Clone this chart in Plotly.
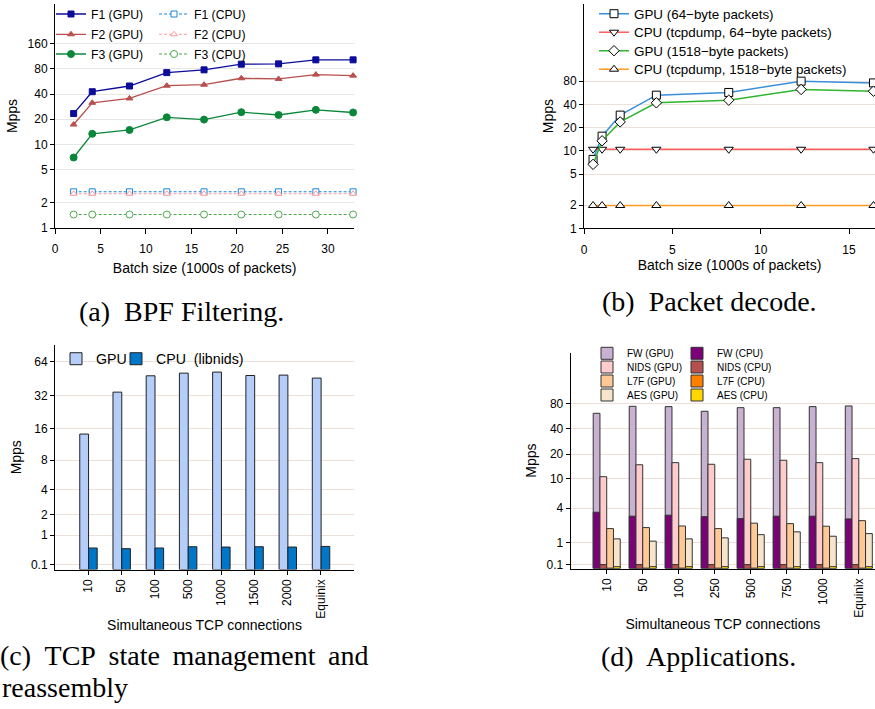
import numpy as np
import plotly.graph_objects as go

# ---------------- data ----------------
# (a) BPF filtering
batch_a = [2.048, 4.096, 8.192, 12.288, 16.384, 20.48, 24.576, 28.672, 32.768]
f1_gpu = [23.4, 42.7, 50.0, 72.3, 78.0, 91.2, 92.0, 102.8, 102.8]
f2_gpu = [17.3, 31.5, 35.5, 50.4, 51.8, 61.9, 60.7, 68.4, 66.5]
f3_gpu = [6.97, 13.4, 14.9, 21.1, 19.8, 24.3, 22.5, 25.9, 24.1]
f1_cpu = [2.71, 2.71, 2.71, 2.71, 2.71, 2.71, 2.71, 2.71, 2.71]
f2_cpu = [2.57, 2.57, 2.57, 2.57, 2.57, 2.57, 2.57, 2.57, 2.57]
f3_cpu = [1.45, 1.45, 1.45, 1.45, 1.45, 1.45, 1.45, 1.45, 1.45]
yticks_a = [1, 2, 5, 10, 20, 40, 80, 160]

# (b) packet decode
batch_b = [0.512, 1.024, 2.048, 4.096, 8.192, 12.288, 16.384]
gpu_64 = [7.77, 15.5, 29.0, 52.5, 56.9, 79.6, 75.6]
cpu_64 = [10.5, 10.5, 10.5, 10.5, 10.5, 10.5, 10.5]
gpu_1518 = [6.7, 13.5, 23.7, 41.8, 45.2, 62.2, 59.1]
cpu_1518 = [1.97, 1.97, 1.97, 1.97, 1.97, 1.97, 1.97]
yticks_b = [1, 2, 5, 10, 20, 40, 80]

# (c) TCP state management and reassembly
conn_c = ["10", "50", "100", "500", "1000", "1500", "2000", "Equinix"]
gpu_c = [14.2, 34.3, 48.0, 50.7, 51.8, 48.3, 48.7, 45.8]
cpu_c = [0.54, 0.52, 0.54, 0.58, 0.57, 0.58, 0.57, 0.59]
yticks_c = [0.1, 1, 2, 4, 8, 16, 32, 64]

# (d) applications
conn_d = ["10", "50", "100", "250", "500", "750", "1000", "Equinix"]
fw_gpu = [61.1, 73.8, 73.1, 64.5, 71.1, 71.1, 73.1, 74.5]
fw_cpu = [3.47, 3.02, 3.13, 2.97, 2.77, 3.02, 3.02, 2.74]
nids_gpu = [10.5, 14.8, 15.7, 15.0, 17.3, 16.8, 15.7, 17.6]
nids_cpu = [0.11, 0.11, 0.11, 0.11, 0.11, 0.11, 0.11, 0.11]
l7f_gpu = [1.89, 1.97, 2.10, 1.89, 2.34, 2.30, 2.08, 2.57]
l7f_cpu = [0.01, 0.01, 0.01, 0.01, 0.01, 0.01, 0.01, 0.01]
aes_gpu = [1.20, 1.07, 1.20, 1.26, 1.46, 1.65, 1.36, 1.53]
aes_cpu = [0.05, 0.05, 0.05, 0.05, 0.05, 0.05, 0.05, 0.05]
yticks_d = [0.1, 1, 4, 10, 20, 40, 80]


def slog(v):
    """log10(1+x) scale used by the bar panels"""
    return np.log10(np.asarray(v, dtype=float) + 1.0)


W, H = 875, 709


def px(x):
    return x / W


def py(y):
    return 1 - y / H


SANS = "Liberation Sans, Arial, sans-serif"
SERIF = "Liberation Serif, Times New Roman, serif"
GRID_PINK = "#eedfd8"

fig = go.Figure()

# ---------------- (a) ----------------
def line_a(y, name, color, symbol, dash, filled, leg):
    fig.add_trace(go.Scatter(
        x=batch_a, y=y, name=name, mode="lines+markers",
        line=dict(color=color, width=1.3 if filled else 1.1, dash=dash),
        marker=dict(symbol=symbol, size=6 if symbol != "circle" else 7,
                    color=color if filled else "white",
                    line=dict(color=color, width=1)),
        xaxis="x", yaxis="y", legend=leg, cliponaxis=False))

line_a(f1_gpu, "F1 (GPU)", "#0c0c9a", "square", "solid", True, "legend")
line_a(f1_cpu, "F1 (CPU)", "#1b87d8", "square", "3px,2px", False, "legend")
line_a(f2_gpu, "F2 (GPU)", "#b8504e", "triangle-up", "solid", True, "legend2")
line_a(f2_cpu, "F2 (CPU)", "#ff9a9a", "triangle-up", "3px,2px", False, "legend2")
line_a(f3_gpu, "F3 (GPU)", "#0b873a", "circle", "solid", True, "legend3")
line_a(f3_cpu, "F3 (CPU)", "#4fa84f", "circle", "3px,2px", False, "legend3")

# ---------------- (b) ----------------
def line_b(y, name, color, symbol, leg):
    fig.add_trace(go.Scatter(
        x=batch_b, y=y, name=name, mode="lines+markers",
        line=dict(color=color, width=1.5),
        marker=dict(symbol=symbol, size=8, color="white",
                    line=dict(color="black", width=1)),
        xaxis="x2", yaxis="y2", legend=leg, cliponaxis=False))

line_b(gpu_64, "GPU (64\u2212byte packets)", "#3a8fd9", "square", "legend4")
line_b(cpu_64, "CPU (tcpdump, 64\u2212byte packets)", "#ff5c5c", "triangle-down", "legend5")
line_b(gpu_1518, "GPU (1518\u2212byte packets)", "#2fb52f", "diamond", "legend6")
line_b(cpu_1518, "CPU (tcpdump, 1518\u2212byte packets)", "#ff9a1f", "triangle-up", "legend7")

# ---------------- (c) ----------------
fig.add_trace(go.Bar(
    x=conn_c, y=slog(gpu_c), name="GPU", customdata=gpu_c,
    offset=-0.255, width=0.265,
    marker=dict(color="#b5cdf9", line=dict(color="#222222", width=1)),
    xaxis="x3", yaxis="y3", legend="legend8"))
fig.add_trace(go.Bar(
    x=conn_c, y=slog(cpu_c), name="CPU\u00a0\u00a0(libnids)", customdata=cpu_c,
    offset=0.01, width=0.26,
    marker=dict(color="#0076c8", line=dict(color="#222222", width=1)),
    xaxis="x3", yaxis="y3", legend="legend9"))

# ---------------- (d) ----------------
bw = 0.1875
apps = [
    ("FW", fw_gpu, fw_cpu, "#c9b1d1", "#7b0079", -2 * bw, "legend10", "legend11"),
    ("NIDS", nids_gpu, nids_cpu, "#ffcccc", "#b5504e", -bw, "legend12", "legend13"),
    ("L7F", l7f_gpu, l7f_cpu, "#ffc995", "#ff7f00", 0.0, "legend14", "legend15"),
    ("AES", aes_gpu, aes_cpu, "#f6e5cc", "#ffd700", bw, "legend16", "legend17"),
]
for name, g, c, gcol, ccol, off, leg_g, leg_c in apps:
    fig.add_trace(go.Bar(
        x=conn_d, y=slog(g), name=f"{name} (GPU)", customdata=g,
        offset=off, width=bw,
        marker=dict(color=gcol, line=dict(color="#333333", width=1)),
        xaxis="x4", yaxis="y4", legend=leg_g))
    fig.add_trace(go.Bar(
        x=conn_d, y=slog(c), name=f"{name} (CPU)", customdata=c,
        offset=off, width=bw,
        marker=dict(color=ccol, line=dict(color="#333333", width=1)),
        xaxis="x4", yaxis="y4", legend=leg_c))

# ---------------- layout ----------------
tickfont = dict(family=SANS, size=12, color="black")
titlefont = dict(family=SANS, size=14, color="black")
common_x = dict(showline=True, linecolor="black", linewidth=1, ticks="outside",
                ticklen=5, tickcolor="black", showgrid=False, zeroline=False,
                tickfont=tickfont, title_font=titlefont, automargin=False)
common_y = dict(showline=True, linecolor="black", linewidth=1, ticks="outside",
                ticklen=4, tickcolor="black", zeroline=False,
                tickfont=tickfont, title_font=titlefont, automargin=False)


def legend_row(x, y, size, entrywidth=None):
    d = dict(x=px(x), y=py(y), xanchor="left", yanchor="middle", xref="paper",
             orientation="h", bgcolor="rgba(0,0,0,0)",
             font=dict(family=SANS, size=size, color="black"), itemwidth=30)
    if entrywidth is not None:
        d.update(entrywidth=entrywidth, entrywidthmode="pixels")
    return d


legends = {
    "legend": legend_row(51, 14, 12.2, 58),
    "legend2": legend_row(51, 34.3, 12.2, 58),
    "legend3": legend_row(51, 54, 12.2, 58),
    "legend4": legend_row(594, 14, 13.4),
    "legend5": legend_row(594, 32.5, 13.4),
    "legend6": legend_row(594, 51, 13.4),
    "legend7": legend_row(594, 69.5, 13.4),
    "legend8": legend_row(56, 359, 14.2),
    "legend9": legend_row(116, 359, 14.2),
}
rows_d = [353.3, 367, 381, 395]
for i, yy in enumerate(rows_d):
    legends[f"legend{10 + 2 * i}"] = legend_row(587, yy, 10)
    legends[f"legend{11 + 2 * i}"] = legend_row(677, yy, 10)

fig.update_layout(
    template="none",
    width=W, height=H, margin=dict(l=0, r=0, t=0, b=0, autoexpand=False),
    paper_bgcolor="white", plot_bgcolor="white",
    font=dict(family=SANS, color="black"),
    barmode="overlay", showlegend=True,
    xaxis=dict(common_x, domain=[px(55), px(354.3)], range=[0, 32.9],
               tickvals=[0, 5, 10, 15, 20, 25, 30], anchor="y",
               ticklabelstandoff=5,
               title=dict(text="Batch size (1000s of packets)", standoff=7)),
    yaxis=dict(common_y, type="log", domain=[py(228), py(4)], range=[0, 2.68],
               tickvals=yticks_a, ticktext=[str(t) for t in yticks_a],
               showgrid=True, gridcolor="#e6e6e6", anchor="x",
               title=dict(text="Mpps", standoff=6)),
    xaxis2=dict(common_x, domain=[px(584), 1.0], range=[0, 16.47],
                tickvals=[0, 5, 10, 15], anchor="y2", ticklabelstandoff=5,
                title=dict(text="Batch size (1000s of packets)", standoff=0)),
    yaxis2=dict(common_y, type="log", domain=[py(228.3), py(4)], range=[0, 2.898],
                tickvals=yticks_b, ticktext=[str(t) for t in yticks_b],
                showgrid=True, gridcolor=GRID_PINK, anchor="x2",
                title=dict(text="Mpps", standoff=6)),
    xaxis3=dict(common_x, type="category", categoryorder="array", categoryarray=conn_c,
                domain=[px(55), px(354)], range=[-1, 8], tickangle=-90, ticklen=4,
                anchor="y3", title=dict(text="Simultaneous TCP connections", standoff=2)),
    yaxis3=dict(common_y, domain=[py(569.5), py(345)], range=[0, 1.959],
                tickvals=slog(yticks_c).tolist(), ticktext=[str(t) for t in yticks_c],
                showgrid=True, gridcolor=GRID_PINK, anchor="x3",
                title=dict(text="Mpps", standoff=6)),
    xaxis4=dict(common_x, type="category", categoryorder="array", categoryarray=conn_d,
                domain=[px(570.7), 1.0], range=[-1, 7.45], tickangle=-90, ticklen=4,
                anchor="y4", title=dict(text="Simultaneous TCP connections", standoff=2)),
    yaxis4=dict(common_y, domain=[py(568.5), py(352.7)], range=[0, 2.493],
                tickvals=slog(yticks_d).tolist(), ticktext=[str(t) for t in yticks_d],
                showgrid=True, gridcolor=GRID_PINK, anchor="x4",
                title=dict(text="Mpps", standoff=6)),
    **legends,
)

caps = [
    ("(a)\u00a0 BPF Filtering.", px(181), py(311), "center"),
    ("(b)\u00a0 Packet decode.", px(709), py(301), "center"),
    ("(c)\u00a0 TCP\u2009 state\u2009 management\u2009 and", px(-2), py(655), "left"),
    ("reassembly", px(0), py(687), "left"),
    ("(d)\u00a0 Applications.", px(698), py(656), "center"),
]
for text, x, y, anchor in caps:
    fig.add_annotation(text=text, x=x, y=y, xref="paper", yref="paper",
                       xanchor=anchor, yanchor="middle", showarrow=False,
                       font=dict(family=SERIF, size=28, color="black"))

fig.write_html("out.html")
